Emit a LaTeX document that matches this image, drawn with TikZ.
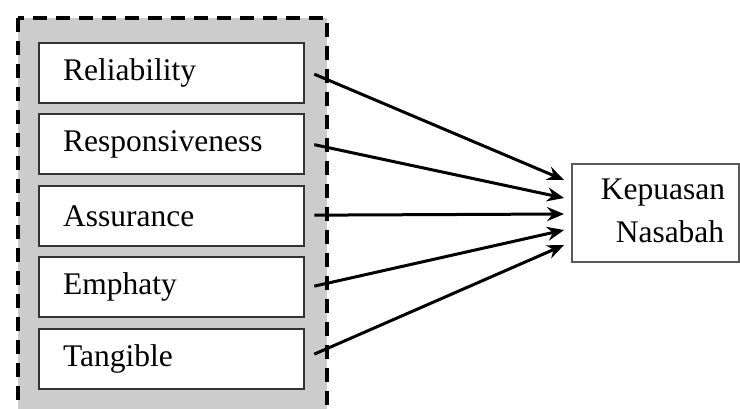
\documentclass[tikz,border=0pt]{standalone}
\usepackage{fontspec}
\setmainfont{Liberation Serif}
\usetikzlibrary{arrows.meta}
\begin{document}
\begin{tikzpicture}[x=1pt,y=-1pt,
  dimbox/.style={draw=black!80, line width=2.3pt, fill=white, minimum width=265pt,
    minimum height=60pt, inner xsep=24pt, inner ysep=0pt, text width=217pt, align=left,
    anchor=north west, font=\fontsize{31.5}{36}\selectfont},
  groupbox/.style={draw=black, line width=3.5pt, fill=gray!40, dash pattern=on 14pt off 9pt},
  kbox/.style={draw=black!65, line width=1.8pt, fill=white, minimum width=167pt,
    minimum height=98pt, inner sep=0pt},
  ktext/.style={font=\fontsize{31.5}{36}\selectfont, inner sep=0pt},
  arr/.style={line width=3pt, -{Stealth[length=17pt,width=14pt]}}]
\useasboundingbox (0,0) rectangle (740,408);
\fill[white] (0,0) rectangle (740,408);
\clip (0,0) rectangle (740,408);
\draw[groupbox] (18,18) rectangle (327,425);
\node[dimbox] (r1) at (38,42) {Reliability};
\node[dimbox] (r2) at (38,113) {Responsiveness};
\node[dimbox] (r3) at (38,185) {Assurance};
\node[dimbox] (r4) at (38,256) {Emphaty};
\node[dimbox] (r5) at (38,328) {Tangible};
\node[kbox] (k) at (655.5,213) {};
\node[ktext] (k1) at (663,193) {Kepuasan};
\node[ktext] (k2) at (670,232) {Nasabah};
\draw[arr] ([xshift=9pt,yshift=-1pt]r1.east) -- ([xshift=-7pt,yshift=33pt]k.west);
\draw[arr] ([xshift=9pt,yshift=-0.5pt]r2.east) -- ([xshift=-7pt,yshift=15pt]k.west);
\draw[arr] ([xshift=9pt,yshift=1pt]r3.east) -- ([xshift=-7pt,yshift=-1pt]k.west);
\draw[arr] ([xshift=9pt,yshift=1pt]r4.east) -- ([xshift=-7pt,yshift=-17pt]k.west);
\draw[arr] ([xshift=9pt,yshift=5pt]r5.east) -- ([xshift=-7pt,yshift=-32pt]k.west);
\end{tikzpicture}
\end{document}
